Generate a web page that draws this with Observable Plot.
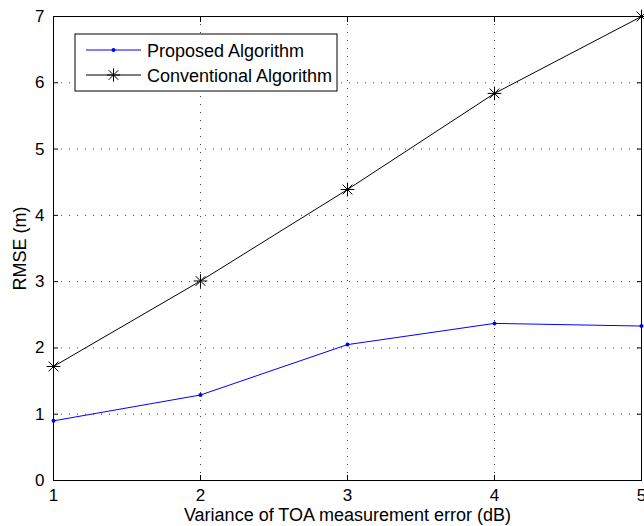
<!DOCTYPE html>
<html>
<head>
<meta charset="utf-8">
<script src="https://cdn.jsdelivr.net/npm/d3@7"></script>
<script src="https://cdn.jsdelivr.net/npm/@observablehq/plot@0.6"></script>
<style>
  body { margin: 0; background: #fff; }
  #chart { width: 644px; height: 526px; }
  #chart svg { font-family: "Liberation Sans", Arial, Helvetica, sans-serif; }
</style>
</head>
<body>
<div id="chart"></div>
<script>
// RMSE versus TOA measurement-error variance
const variance = [1, 2, 3, 4, 5];
const proposed = [0.90, 1.29, 2.05, 2.37, 2.33];
const conventional = [1.72, 3.01, 4.39, 5.84, 7.00];
const xTicks = [1, 2, 3, 4, 5];
const yTicks = [0, 1, 2, 3, 4, 5, 6, 7];
const seriesNames = ["Proposed Algorithm", "Conventional Algorithm"];
const seriesColors = ["#0000ff", "#000000"];

const proposedRows = variance.map((v, i) => ({v, rmse: proposed[i]}));
const conventionalRows = variance.map((v, i) => ({v, rmse: conventional[i]}));

const font = "\"Liberation Sans\", Arial, Helvetica, sans-serif";
const gridStyle = {stroke: "#000", strokeOpacity: 0.75, strokeDasharray: "1,7"};
const intFormat = d3.format("d");

const plot = Plot.plot({
  width: 644,
  height: 526,
  marginLeft: 53,
  marginRight: 3,
  marginTop: 16,
  marginBottom: 46,
  style: {fontFamily: font, fontSize: "17px", color: "#000", background: "#fff"},
  x: {domain: [1, 5]},
  y: {domain: [0, 7]},
  marks: [
    Plot.gridX(xTicks.slice(1, -1), gridStyle),
    Plot.gridY(yTicks.slice(1, -1), gridStyle),
    // tick labels
    Plot.axisX(xTicks, {tickSize: 0, tickPadding: 8, fontSize: 17, tickFormat: intFormat, label: null}),
    Plot.axisY(yTicks, {tickSize: 0, tickPadding: 9, fontSize: 17, tickFormat: intFormat, label: null}),
    // axis titles
    Plot.axisX(xTicks, {tickSize: 0, text: null, fontSize: 18,
      label: "Variance of TOA measurement error (dB)", labelAnchor: "center", labelOffset: 40, labelArrow: "none"}),
    Plot.axisY(yTicks, {tickSize: 0, text: null, fontSize: 18,
      label: "RMSE (m)", labelAnchor: "center", labelOffset: 40, labelArrow: "none"}),
    // inward tick marks on all four sides
    Plot.axisX(xTicks, {anchor: "bottom", tickSize: -5, text: null, label: null}),
    Plot.axisX(xTicks, {anchor: "top", tickSize: -5, text: null, label: null}),
    Plot.axisY(yTicks, {anchor: "left", tickSize: -5, text: null, label: null}),
    Plot.axisY(yTicks, {anchor: "right", tickSize: -5, text: null, label: null}),
    Plot.frame({stroke: "#000", strokeWidth: 1}),
    // series
    Plot.line(conventionalRows, {x: "v", y: "rmse", stroke: seriesColors[1], strokeWidth: 1}),
    Plot.dot(conventionalRows, {x: "v", y: "rmse", symbol: "plus", r: 4.5, stroke: seriesColors[1], strokeWidth: 1}),
    Plot.dot(conventionalRows, {x: "v", y: "rmse", symbol: "times", r: 4.5, stroke: seriesColors[1], strokeWidth: 1}),
    Plot.line(proposedRows, {x: "v", y: "rmse", stroke: seriesColors[0], strokeWidth: 1}),
    Plot.dot(proposedRows, {x: "v", y: "rmse", r: 2, fill: seriesColors[0], stroke: "none"})
  ]
});

document.getElementById("chart").appendChild(plot);

// legend box in the upper-left corner of the frame
const svg = d3.select(plot);
const legend = svg.append("g").attr("transform", "translate(75,34)");
legend.append("rect")
  .attr("width", 262).attr("height", 57)
  .attr("fill", "#fff").attr("stroke", "#000").attr("stroke-width", 1);
seriesNames.forEach((name, i) => {
  const row = legend.append("g").attr("transform", `translate(0,${16 + i * 25})`);
  row.append("line").attr("x1", 11).attr("x2", 66).attr("y1", 0).attr("y2", 0)
    .attr("stroke", seriesColors[i]).attr("stroke-width", 1);
  if (i === 0) {
    row.append("circle").attr("cx", 38.5).attr("cy", 0).attr("r", 2).attr("fill", seriesColors[i]);
  } else {
    row.append("path").attr("transform", "translate(38.5,0)")
      .attr("d", d3.symbol(d3.symbolPlus, 60)()).attr("fill", "none").attr("stroke", seriesColors[i]);
    row.append("path").attr("transform", "translate(38.5,0)")
      .attr("d", d3.symbol(d3.symbolTimes, 60)()).attr("fill", "none").attr("stroke", seriesColors[i]);
  }
  row.append("text").attr("x", 72).attr("y", 6.5)
    .attr("text-anchor", "start").attr("font-size", 18).attr("fill", "#000").text(name);
});
</script>
</body>
</html>
